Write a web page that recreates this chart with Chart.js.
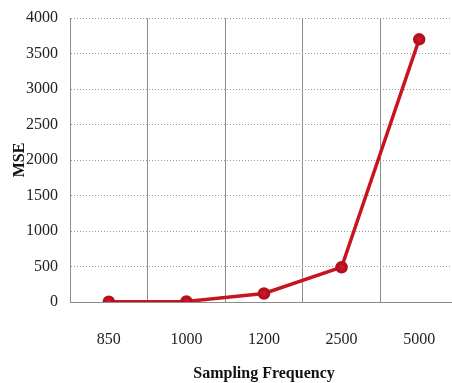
<!DOCTYPE html>
<html lang="en">
<head>
    <meta charset="UTF-8">
    <title>MSE vs Sampling Frequency</title>
    <script src="https://cdn.jsdelivr.net/npm/chart.js"></script>
    <style>
        html, body { margin: 0; padding: 0; background: #fff; overflow: hidden; }
        #wrap { width: 466px; height: 383px; }
    </style>
</head>
<body>
    <div id="wrap"><canvas id="mseChart"></canvas></div>
    <script>
        // Data
        const frequencies = ['850', '1000', '1200', '2500', '5000'];
        const mseValues = [5, 8, 120, 490, 3700];
        const yTicks = [0, 500, 1000, 1500, 2000, 2500, 3000, 3500, 4000];

        const serif = '"Liberation Serif", "Times New Roman", serif';

        new Chart(document.getElementById('mseChart'), {
            type: 'line',
            data: {
                labels: frequencies,
                datasets: [{
                    label: 'MSE',
                    data: mseValues,
                    borderColor: '#c8141e',
                    backgroundColor: '#d0142a',
                    pointBackgroundColor: '#d0142a',
                    pointBorderColor: '#b5101c',
                    borderWidth: 3.5,
                    pointRadius: 4.5,
                    tension: 0,
                    fill: false
                }]
            },
            options: {
                responsive: true,
                maintainAspectRatio: false,
                animation: false,
                layout: { padding: { top: 18, right: 0, left: 0, bottom: 0 } },
                plugins: {
                    legend: { display: false },
                    tooltip: { enabled: false }
                },
                scales: {
                    x: {
                        offset: true,
                        grid: { color: '#8c8c8c', lineWidth: 1, offset: true, drawTicks: false },
                        border: { color: '#8c8c8c' },
                        ticks: { color: '#222', font: { family: serif, size: 16 }, padding: 28 },
                        title: {
                            display: true,
                            text: 'Sampling Frequency',
                            color: '#111',
                            font: { family: serif, size: 16, weight: 'bold' },
                            padding: { top: 14, bottom: 0 }
                        },
                        afterFit: function(scale) { scale.height = 81; }
                    },
                    y: {
                        min: 0,
                        max: 4000,
                        afterBuildTicks: function(scale) {
                            scale.ticks = yTicks.map(v => ({ value: v }));
                        },
                        grid: { color: '#9a9a9a', lineWidth: 1, drawTicks: false },
                        border: { color: '#8c8c8c', dash: [1, 2] },
                        ticks: {
                            color: '#222',
                            font: { family: serif, size: 16 },
                            padding: 12,
                            callback: function(value) { return String(value); }
                        },
                        title: {
                            display: true,
                            text: 'MSE',
                            color: '#111',
                            font: { family: serif, size: 16, weight: 'bold' },
                            padding: { top: 10, bottom: 0 }
                        },
                        afterFit: function(scale) {
                            scale.width = 70;
                            scale.paddingTop = 0;
                            scale.paddingBottom = 0;
                        }
                    }
                }
            }
        });
    </script>
</body>
</html>
